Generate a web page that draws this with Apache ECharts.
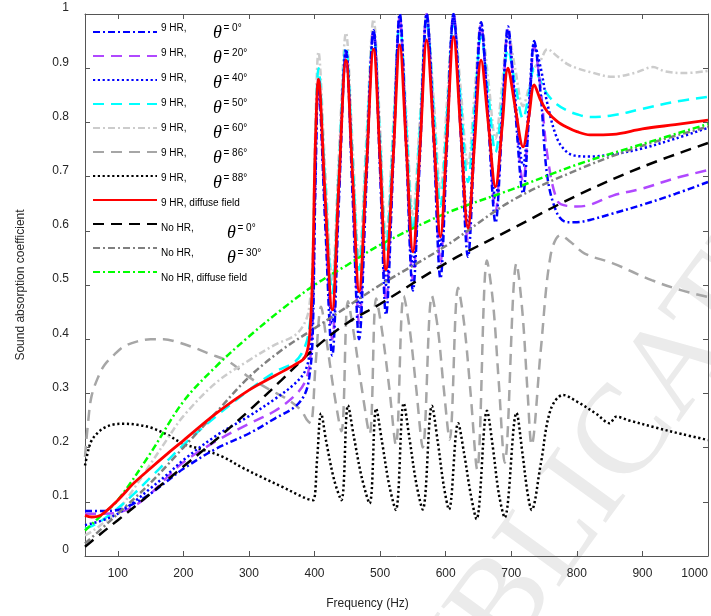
<!DOCTYPE html>
<html>
<head>
<meta charset="utf-8">
<script src="https://cdn.jsdelivr.net/npm/echarts@6/dist/echarts.min.js"></script>
<style>html,body{margin:0;padding:0;background:#fff}#c{width:711px;height:616px}</style>
</head>
<body>
<div id="c"></div>
<script>
// ---------- data ----------
const XTICKS = [100, 200, 300, 400, 500, 600, 700, 800, 900, 1000];

const FREQ_LOW = [50, 60, 75, 100, 125, 150, 175, 200, 250, 300, 340, 370, 385, 392];
const FREQ_RES = [397, 401, 406, 416, 427, 437, 448, 458, 468, 479, 490, 500, 509, 520, 530, 540, 550, 561, 571, 582, 592, 602, 612, 623, 634, 644, 654, 665, 676, 686, 695, 706, 718, 727, 735];
const FREQ_HIGH = [745, 755, 770, 785, 800, 820, 855, 900, 950, 1000];
const FREQ_HIGH_60 = [745, 755, 770, 785, 800, 820, 855, 890, 916, 935, 965, 1000];

const HR0_LOW = [0.083, 0.083, 0.083, 0.085, 0.097, 0.115, 0.138, 0.161, 0.198, 0.226, 0.254, 0.275, 0.298, 0.33];
const HR0_RES = [0.40, 0.66, 0.87, 0.62, 0.37, 0.65, 0.93, 0.665, 0.40, 0.685, 0.97, 0.708, 0.445, 0.723, 1.0, 0.745, 0.49, 0.745, 1.0, 0.756, 0.512, 0.756, 1.0, 0.776, 0.552, 0.769, 0.985, 0.80, 0.615, 0.796, 0.977, 0.823, 0.669, 0.81, 0.95];
const HR0_HIGH = [0.85, 0.70, 0.632, 0.616, 0.616, 0.62, 0.632, 0.648, 0.668, 0.69];

const HR20_LOW = [0.078, 0.078, 0.078, 0.08, 0.092, 0.115, 0.145, 0.173, 0.212, 0.244, 0.268, 0.296, 0.32, 0.35];
const HR20_RES = [0.43, 0.68, 0.87, 0.635, 0.40, 0.665, 0.93, 0.68, 0.43, 0.70, 0.97, 0.72, 0.47, 0.733, 0.995, 0.753, 0.51, 0.755, 1.0, 0.77, 0.54, 0.77, 1.0, 0.79, 0.58, 0.78, 0.98, 0.808, 0.635, 0.803, 0.97, 0.83, 0.69, 0.815, 0.94];
const HR20_HIGH = [0.86, 0.74, 0.656, 0.646, 0.645, 0.648, 0.665, 0.678, 0.697, 0.712];

const HR40_LOW = [0.057, 0.06, 0.065, 0.078, 0.1, 0.125, 0.15, 0.177, 0.222, 0.258, 0.29, 0.318, 0.34, 0.37];
const HR40_RES = [0.45, 0.70, 0.88, 0.655, 0.43, 0.683, 0.935, 0.698, 0.46, 0.715, 0.97, 0.735, 0.50, 0.748, 0.995, 0.765, 0.535, 0.768, 1.0, 0.785, 0.57, 0.783, 0.995, 0.803, 0.61, 0.793, 0.975, 0.818, 0.66, 0.813, 0.965, 0.843, 0.72, 0.833, 0.945];
const HR40_HIGH = [0.90, 0.835, 0.77, 0.745, 0.738, 0.737, 0.741, 0.752, 0.77, 0.79];

const HR50_LOW = [0.05, 0.055, 0.065, 0.088, 0.115, 0.145, 0.175, 0.205, 0.258, 0.306, 0.34, 0.358, 0.385, 0.42];
const HR50_RES = [0.50, 0.74, 0.90, 0.693, 0.485, 0.713, 0.94, 0.734, 0.528, 0.747, 0.965, 0.765, 0.565, 0.775, 0.985, 0.793, 0.60, 0.795, 0.99, 0.818, 0.645, 0.815, 0.985, 0.838, 0.69, 0.825, 0.96, 0.853, 0.745, 0.84, 0.935, 0.871, 0.807, 0.854, 0.90];
const HR50_HIGH = [0.875, 0.852, 0.833, 0.822, 0.815, 0.81, 0.813, 0.825, 0.838, 0.847];

const HR60_LOW = [0.038, 0.045, 0.058, 0.084, 0.125, 0.17, 0.215, 0.258, 0.32, 0.361, 0.39, 0.407, 0.43, 0.46];
const HR60_RES = [0.55, 0.78, 0.93, 0.72, 0.51, 0.738, 0.965, 0.758, 0.55, 0.77, 0.99, 0.79, 0.59, 0.795, 1.0, 0.815, 0.63, 0.815, 1.0, 0.838, 0.675, 0.838, 1.0, 0.86, 0.72, 0.853, 0.985, 0.878, 0.77, 0.869, 0.967, 0.899, 0.83, 0.865, 0.90];
const HR60_HIGH = [0.915, 0.935, 0.922, 0.908, 0.9, 0.893, 0.884, 0.892, 0.902, 0.894, 0.891, 0.895];

const HRD_LOW = [0.075, 0.072, 0.076, 0.103, 0.135, 0.162, 0.188, 0.213, 0.263, 0.306, 0.333, 0.353, 0.366, 0.40];
const HRD_RES = [0.52, 0.75, 0.88, 0.667, 0.454, 0.685, 0.915, 0.702, 0.488, 0.712, 0.935, 0.732, 0.528, 0.736, 0.943, 0.752, 0.561, 0.757, 0.952, 0.771, 0.589, 0.774, 0.958, 0.782, 0.605, 0.76, 0.915, 0.798, 0.681, 0.791, 0.90, 0.828, 0.755, 0.812, 0.869];
const HRD_HIGH = [0.84, 0.82, 0.802, 0.791, 0.783, 0.777, 0.778, 0.788, 0.796, 0.804];

const HR86_FREQ = [50, 55, 60, 70, 80, 95, 110, 130, 150, 170, 190, 215, 240, 270, 300, 330, 360, 380, 388, 394, 402, 410, 418, 430, 441, 451, 460, 472, 484, 494, 503, 514, 524, 536, 545, 555, 565, 579, 588, 597, 606, 619, 628, 638, 648, 663, 672, 681, 690, 708, 717, 725, 731, 745, 760, 775, 790, 812, 855, 914, 960, 1000];
const HR86_VAL = [0.183, 0.25, 0.295, 0.33, 0.353, 0.372, 0.387, 0.396, 0.40, 0.40, 0.395, 0.385, 0.373, 0.358, 0.33, 0.308, 0.288, 0.268, 0.252, 0.245, 0.36, 0.46, 0.40, 0.30, 0.23, 0.47, 0.41, 0.31, 0.225, 0.475, 0.415, 0.31, 0.205, 0.48, 0.42, 0.31, 0.20, 0.48, 0.42, 0.31, 0.215, 0.495, 0.43, 0.30, 0.16, 0.545, 0.47, 0.32, 0.172, 0.54, 0.45, 0.30, 0.205, 0.38, 0.555, 0.592, 0.58, 0.558, 0.54, 0.509, 0.49, 0.478];

const HR88_FREQ = [50, 55, 60, 70, 80, 95, 110, 130, 150, 175, 200, 230, 260, 290, 320, 350, 375, 390, 398, 404, 410, 418, 430, 441, 451, 460, 472, 484, 494, 503, 514, 524, 536, 545, 555, 565, 579, 588, 597, 605, 619, 628, 638, 647, 663, 672, 681, 690, 708, 717, 725, 731, 745, 760, 779, 800, 830, 850, 860, 880, 920, 960, 1000];
const HR88_VAL = [0.167, 0.195, 0.213, 0.228, 0.237, 0.243, 0.244, 0.242, 0.237, 0.224, 0.207, 0.196, 0.183, 0.163, 0.145, 0.128, 0.113, 0.105, 0.103, 0.18, 0.263, 0.21, 0.14, 0.103, 0.278, 0.22, 0.145, 0.097, 0.272, 0.21, 0.13, 0.085, 0.282, 0.215, 0.135, 0.086, 0.277, 0.21, 0.13, 0.086, 0.245, 0.19, 0.115, 0.068, 0.268, 0.20, 0.115, 0.071, 0.264, 0.19, 0.115, 0.085, 0.17, 0.27, 0.297, 0.285, 0.262, 0.245, 0.257, 0.25, 0.237, 0.225, 0.214];

const NOHR_FREQ = [50, 75, 100, 150, 200, 250, 300, 350, 400, 450, 500, 600, 700, 800, 900, 1000];
const NOHR0_VAL = [0.017, 0.042, 0.066, 0.115, 0.165, 0.215, 0.268, 0.325, 0.383, 0.43, 0.465, 0.54, 0.603, 0.665, 0.718, 0.762];
const NOHR30_VAL = [0.023, 0.05, 0.078, 0.135, 0.2, 0.265, 0.33, 0.38, 0.42, 0.46, 0.50, 0.572, 0.655, 0.712, 0.757, 0.792];
const NOHRD_VAL = [0.047, 0.075, 0.103, 0.19, 0.285, 0.35, 0.405, 0.455, 0.5, 0.537, 0.574, 0.632, 0.676, 0.722, 0.76, 0.797];

// legend texts
const LEG_PREFIX = ['9 HR,', '9 HR,', '9 HR,', '9 HR,', '9 HR,', '9 HR,', '9 HR,', '9 HR, diffuse field', 'No HR,', 'No HR,', 'No HR, diffuse field'];
const LEG_ANGLE = ['0°', '20°', '40°', '50°', '60°', '86°', '88°', '', '0°', '30°', ''];

// ---------- build ----------
function pairs(fs, vs) { return fs.map(function (f, i) { return [f, vs[i]]; }); }
const F_ALL = FREQ_LOW.concat(FREQ_RES, FREQ_HIGH);
const F_ALL60 = FREQ_LOW.concat(FREQ_RES, FREQ_HIGH_60);

const DASHDOT = [7, 3, 2, 3];
const DASH = [11, 7];
const DOT = [2.2, 2.6];

function mk(name, data, color, type, width, z) {
  return {
    name: name, type: 'line', data: data, symbol: 'none', showSymbol: false,
    smooth: 0.35, z: z, animation: false,
    itemStyle: { color: color },
    lineStyle: { color: color, width: width, type: type }
  };
}

const N = {
  h0: '9 HR, θ = 0°', h20: '9 HR, θ = 20°', h40: '9 HR, θ = 40°', h50: '9 HR, θ = 50°',
  h60: '9 HR, θ = 60°', h86: '9 HR, θ = 86°', h88: '9 HR, θ = 88°', hd: '9 HR, diffuse field',
  n0: 'No HR, θ = 0°', n30: 'No HR, θ = 30°', nd: 'No HR, diffuse field'
};

const series = [
  mk(N.h86, pairs(HR86_FREQ, HR86_VAL), '#a6a6a6', DASH, 2.5, 2),
  mk(N.h88, pairs(HR88_FREQ, HR88_VAL), '#000000', DOT, 2.5, 2),
  mk(N.h60, pairs(F_ALL60, HR60_LOW.concat(HR60_RES, HR60_HIGH)), '#cccccc', DASHDOT, 2.5, 2),
  mk(N.h50, pairs(F_ALL, HR50_LOW.concat(HR50_RES, HR50_HIGH)), '#00ffff', DASH, 2.5, 2),
  mk(N.h20, pairs(F_ALL, HR20_LOW.concat(HR20_RES, HR20_HIGH)), '#b048ff', DASH, 2.5, 2),
  mk(N.h40, pairs(F_ALL, HR40_LOW.concat(HR40_RES, HR40_HIGH)), '#0000ff', DOT, 2.5, 2),
  mk(N.h0, pairs(F_ALL, HR0_LOW.concat(HR0_RES, HR0_HIGH)), '#0000ff', DASHDOT, 2.5, 2),
  mk(N.n0, pairs(NOHR_FREQ, NOHR0_VAL), '#000000', DASH, 2.5, 2),
  mk(N.n30, pairs(NOHR_FREQ, NOHR30_VAL), '#808080', DASHDOT, 2.5, 2),
  mk(N.nd, pairs(NOHR_FREQ, NOHRD_VAL), '#00ff00', DASHDOT, 2.5, 2),
  mk(N.hd, pairs(F_ALL, HRD_LOW.concat(HRD_RES, HRD_HIGH)), '#ff0000', 'solid', 2.8, 3)
];

const AX = '#555555';
const LBL = '#262626';
const FONT = '"Liberation Sans", Arial, sans-serif';
const SERIF = '"Liberation Serif", "Times New Roman", serif';

// legend labels as real text beside the ECharts legend icons
const ROW0 = 32, ROWH = 25;
const legendText = [];
LEG_PREFIX.forEach(function (p, i) {
  const c = ROW0 + ROWH * i;
  legendText.push({ type: 'text', x: 161, y: c - 4, silent: true, z: 10,
    style: { text: p, font: '10px ' + FONT, fill: '#000', verticalAlign: 'middle', align: 'left' } });
  if (LEG_ANGLE[i]) {
    const tx = p.indexOf('No') === 0 ? 227 : 213;
    legendText.push({ type: 'text', x: tx, y: c + 1.5, silent: true, z: 10,
      style: { text: 'θ', font: 'italic 18px ' + SERIF, fill: '#000', verticalAlign: 'middle', align: 'left' } });
    legendText.push({ type: 'text', x: tx + 10.5, y: c - 4, silent: true, z: 10,
      style: { text: '= ' + LEG_ANGLE[i], font: '10px ' + FONT, fill: '#000', verticalAlign: 'middle', align: 'left' } });
  }
});

const chart = echarts.init(document.getElementById('c'), null, { renderer: 'canvas' });
chart.setOption({
  backgroundColor: '#ffffff',
  animation: false,
  grid: { left: 85, right: 3, top: 14, bottom: 60, containLabel: false, outerBoundsMode: 'none' },
  graphic: [{
    type: 'text', x: 630, y: 432, rotation: 54 * Math.PI / 180, z: 0, silent: true,
    style: { text: 'PUBLICATION', font: '128px ' + SERIF, fill: '#ebebeb', align: 'center', verticalAlign: 'middle' }
  }].concat(legendText),
  legend: {
    orient: 'vertical', left: 92, top: ROW0 - 5, padding: 0, itemGap: ROWH - 10,
    itemWidth: 64, itemHeight: 10, selectedMode: false,
    itemStyle: { opacity: 0 },
    data: [N.h0, N.h20, N.h40, N.h50, N.h60, N.h86, N.h88, N.hd, N.n0, N.n30, N.nd],
    formatter: function () { return ''; },
    textStyle: { fontSize: 10, fontFamily: FONT }
  },
  xAxis: [{
    type: 'value', min: 50, max: 1000, position: 'bottom',
    axisLine: { show: true, onZero: false, lineStyle: { color: AX, width: 1 } },
    axisTick: { show: true, inside: true, length: 5, customValues: XTICKS, lineStyle: { color: AX } },
    axisLabel: { show: true, customValues: XTICKS, color: LBL, fontSize: 12, fontFamily: FONT, margin: 12,
      alignMaxLabel: 'right',
      formatter: function (v) { return String(v); } },
    splitLine: { show: false },
    name: 'Frequency (Hz)', nameLocation: 'middle', nameGap: 42,
    nameTextStyle: { color: LBL, fontSize: 12, fontFamily: FONT, padding: [0, 58, 0, 0] }
  }, {
    type: 'value', min: 50, max: 1000, position: 'top',
    axisLine: { show: true, onZero: false, lineStyle: { color: AX, width: 1 } },
    axisTick: { show: true, inside: true, length: 5, customValues: XTICKS, lineStyle: { color: AX } },
    axisLabel: { show: false },
    splitLine: { show: false }
  }],
  yAxis: [{
    type: 'value', min: 0, max: 1, interval: 0.1, position: 'left',
    axisLine: { show: true, onZero: false, lineStyle: { color: AX, width: 1 } },
    axisTick: { show: true, inside: true, length: 5, lineStyle: { color: AX } },
    axisLabel: {
      color: LBL, fontSize: 12, fontFamily: FONT, margin: 16, verticalAlign: 'bottom', lineHeight: 12,
      formatter: function (v) { return String(Math.round(v * 10) / 10); }
    },
    splitLine: { show: false },
    name: 'Sound absorption coefficient', nameLocation: 'middle', nameGap: 58, nameRotate: 90,
    nameTextStyle: { color: LBL, fontSize: 12, fontFamily: FONT }
  }, {
    type: 'value', min: 0, max: 1, interval: 0.1, position: 'right',
    axisLine: { show: true, onZero: false, lineStyle: { color: AX, width: 1 } },
    axisTick: { show: true, inside: true, length: 5, lineStyle: { color: AX } },
    axisLabel: { show: false },
    splitLine: { show: false }
  }],
  series: series
});
</script>
</body>
</html>
